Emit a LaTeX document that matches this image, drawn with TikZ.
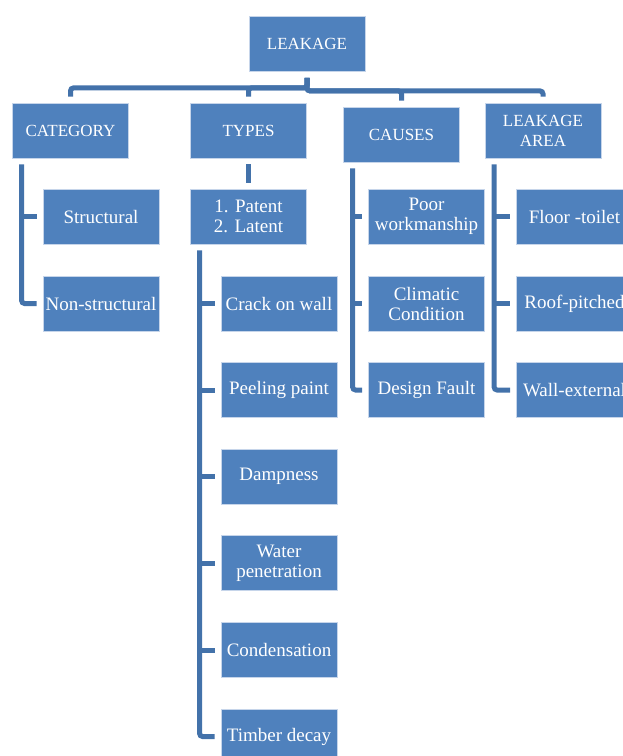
\documentclass[tikz,border=0pt]{standalone}
\usepackage{fontspec}
\setmainfont{Liberation Serif}
\definecolor{boxfill}{HTML}{4F81BD}
\definecolor{boxedge}{HTML}{C6D5EA}
\definecolor{conncol}{HTML}{4372AA}
\tikzset{
  box/.style={draw=boxedge, line width=0.8pt, fill=boxfill, text=white,
    minimum width=116pt, minimum height=55pt, inner sep=1pt, align=center,
    font=\fontsize{19}{20}\selectfont},
  headbox/.style={box, font=\fontsize{17}{20}\selectfont},
  conn/.style={draw=conncol, line width=5pt, rounded corners=3pt}
}
\begin{document}
\begin{tikzpicture}[x=1pt,y=-1pt]
\useasboundingbox (0,0) rectangle (623,756);
\clip (0,0) rectangle (623,756);
% top level
\node[headbox] (leak) at (307,44) {LEAKAGE};
\node[headbox] (cat) at (70.5,130.5) {CATEGORY};
\node[headbox] (types) at (248.5,130.5) {TYPES};
\node[headbox] (causes) at (401.5,134.5) {CAUSES};
\node[headbox] (area) at (543,130.5) {LEAKAGE\\AREA};
% category children
\node[box] (struct) at (101,216.5) {Structural};
\node[box] (nonstruct) at (101,303.5) {Non-structural};
% types children
\node[box] (patent) at (248.5,216.5) {1. Patent\\2. Latent};
\node[box] (crack) at (279,303.5) {Crack on wall};
\node[box] (peel) at (279,390) {Peeling paint};
\node[box] (damp) at (279,476.5) {Dampness};
\node[box] (water) at (279,563) {Water\\penetration};
\node[box] (cond) at (279,650) {Condensation};
\node[box] (timber) at (279,736.5) {Timber decay};
% causes children
\node[box] (poor) at (426.5,216.5) {Poor\\workmanship};
\node[box] (clim) at (426.5,303.5) {Climatic\\Condition};
\node[box] (design) at (426.5,390) {Design Fault};
% area children
\node[box] (floor) at (574.5,216.5) {Floor -toilet};
\node[box] (roof) at (574.5,303.5) {Roof-pitched};
\node[box] (wall) at (574.5,390) {Wall-external};
% top connectors
\draw[conn] ([yshift=-6pt]leak.south) -- ([yshift=-16pt]leak.south) -| ([yshift=6pt]cat.north);
\draw[conn] ([yshift=-6pt]leak.south) -- ([yshift=-16pt]leak.south) -| ([yshift=6pt]types.north);
\draw[conn] ([yshift=-6pt]leak.south) -- ([yshift=-19pt]leak.south) -| ([yshift=6pt]causes.north);
\draw[conn] ([yshift=-6pt]leak.south) -- ([yshift=-19pt]leak.south) -| ([yshift=6pt]area.north);
% category
\coordinate (catx) at ([xshift=9.5pt,yshift=-6pt]cat.south west);
\draw[conn] (catx) |- ([xshift=-6pt]nonstruct.west);
\draw[conn] (catx |- struct.west) -- ([xshift=-6pt]struct.west);
% types
\draw[conn] ([yshift=-6pt]types.south) -- ([yshift=6pt]patent.north);
\coordinate (patx) at ([xshift=9.5pt,yshift=-6pt]patent.south west);
\draw[conn] (patx) |- ([xshift=-6pt]timber.west);
\foreach \n in {crack,peel,damp,water,cond}
  \draw[conn] (patx |- \n.west) -- ([xshift=-6pt]\n.west);
% causes
\coordinate (caux) at ([xshift=9.5pt,yshift=-6pt]causes.south west);
\draw[conn] (caux) |- ([xshift=-6pt]design.west);
\foreach \n in {poor,clim}
  \draw[conn] (caux |- \n.west) -- ([xshift=-6pt]\n.west);
% area
\coordinate (arex) at ([xshift=9.5pt,yshift=-6pt]area.south west);
\draw[conn] (arex) |- ([xshift=-6pt]wall.west);
\foreach \n in {floor,roof}
  \draw[conn] (arex |- \n.west) -- ([xshift=-6pt]\n.west);
\end{tikzpicture}
\end{document}
